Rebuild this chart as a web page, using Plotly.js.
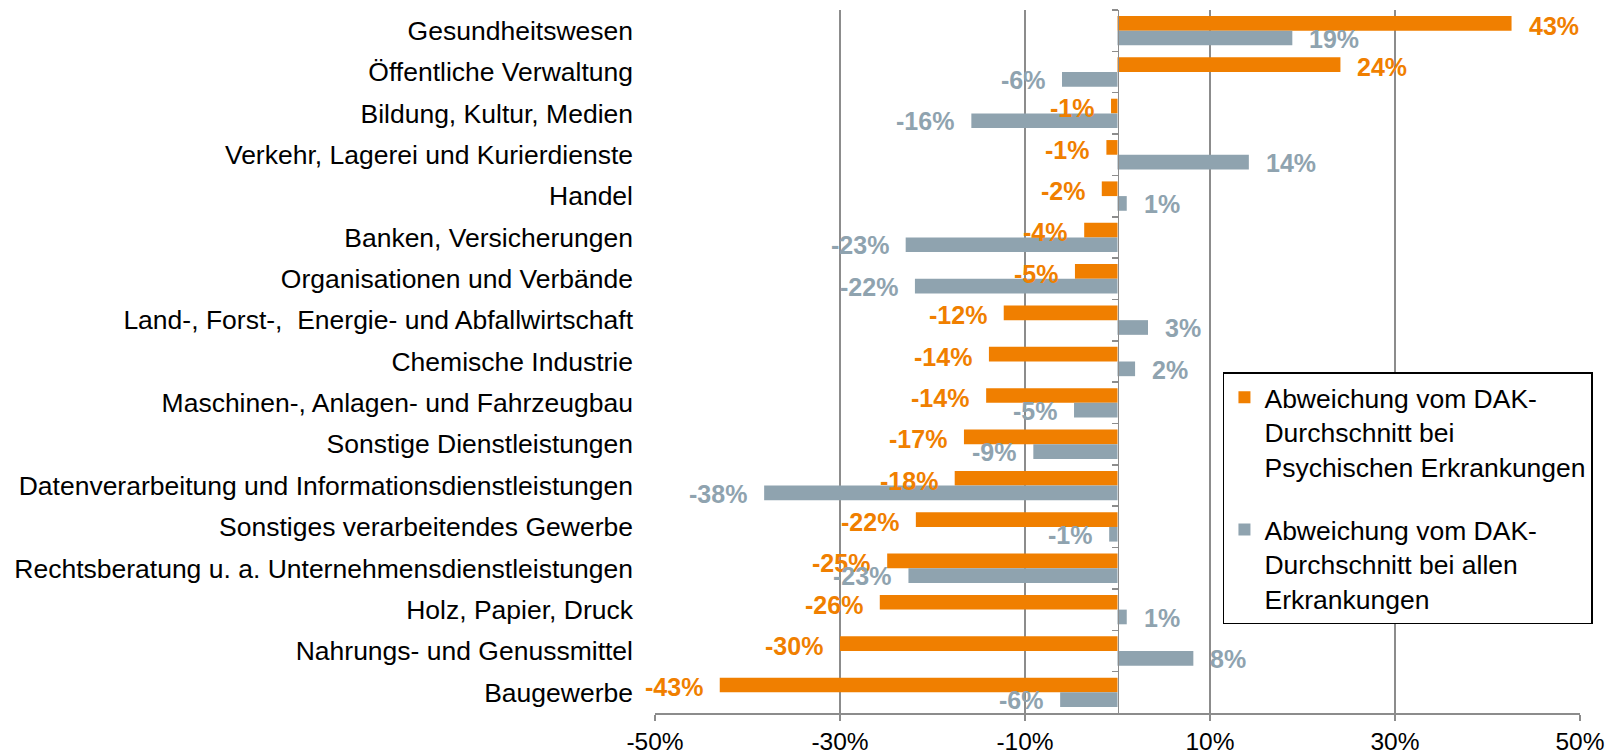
<!DOCTYPE html>
<html>
<head>
<meta charset="utf-8">
<script src="https://cdn.plot.ly/plotly-3.0.1.min.js"></script>
<style>html,body{margin:0;padding:0;background:#fff;}#chart{width:1610px;height:756px;}</style>
</head>
<body>
<div id="chart"></div>
<script>
const categories = [
  "Gesundheitswesen",
  "Öffentliche Verwaltung",
  "Bildung, Kultur, Medien",
  "Verkehr, Lagerei und Kurierdienste",
  "Handel",
  "Banken, Versicherungen",
  "Organisationen und Verbände",
  "Land-, Forst-,  Energie- und Abfallwirtschaft",
  "Chemische Industrie",
  "Maschinen-, Anlagen- und Fahrzeugbau",
  "Sonstige Dienstleistungen",
  "Datenverarbeitung und Informationsdienstleistungen",
  "Sonstiges verarbeitendes Gewerbe",
  "Rechtsberatung u. a. Unternehmensdienstleistungen",
  "Holz, Papier, Druck",
  "Nahrungs- und Genussmittel",
  "Baugewerbe"
];
const psychValues = [42.6, 24.1, -0.7, -1.2, -1.7, -3.6, -4.6, -12.3, -13.9, -14.2, -16.6, -17.6, -21.8, -24.9, -25.7, -30.0, -43.0];
const allValues   = [18.9, -6.0, -15.8, 14.2, 1.0, -22.9, -21.9, 3.3, 1.9, -4.7, -9.1, -38.2, -0.9, -22.6, 1.0, 8.2, -6.2];
const seriesNames = [
  "Abweichung vom DAK-<br>Durchschnitt bei<br>Psychischen Erkrankungen",
  "Abweichung vom DAK-<br>Durchschnitt bei allen<br>Erkrankungen"
];
const tickValues = [-50, -30, -10, 10, 30, 50];
const tickLabels = ["-50%", "-30%", "-10%", "10%", "30%", "50%"];

const ORANGE = "#F07F00";
const GREY = "#8FA3AF";
const AXIS = "#8C8C8C";
const FONT = "Liberation Sans, Arial, sans-serif";

const catRange = [categories.length - 0.5, -0.5];

const traces = [
  {type: "bar", orientation: "h", name: seriesNames[0], x: psychValues, y: categories,
   marker: {color: ORANGE, line: {width: 0}}, legendgroup: "a", hoverinfo: "x+y"},
  {type: "bar", orientation: "h", name: seriesNames[1], x: allValues, y: categories,
   marker: {color: GREY, line: {width: 0}}, legendgroup: "b", hoverinfo: "x+y"},
  {type: "scatter", mode: "markers", x: psychValues, y: categories, yaxis: "y2",
   marker: {opacity: 0}, showlegend: false, hoverinfo: "skip"}
];

const annotations = [];
function addLabels(vals, color, yshift) {
  vals.forEach((v, i) => {
    const r = Math.round(v);
    annotations.push({
      x: v, y: categories[i], xref: "x", yref: "y",
      text: (r === 0 ? "0" : String(r)) + "%",
      showarrow: false,
      xanchor: v >= 0 ? "left" : "right",
      yanchor: "middle",
      xshift: v >= 0 ? 15 : -15,
      yshift: yshift,
      font: {family: FONT, size: 25, color: color, weight: "bold"}
    });
  });
}
addLabels(psychValues, ORANGE, 5);
addLabels(allValues, GREY, -8);

const layout = {
  width: 1610, height: 756,
  margin: {l: 655, r: 30, t: 10, b: 43},
  paper_bgcolor: "#fff", plot_bgcolor: "#fff",
  font: {family: FONT, size: 26, color: "#000"},
  barmode: "group",
  bargap: 0.29,
  bargroupgap: 0,
  showlegend: true,
  legend: {
    x: 0.614, y: 0.485, xanchor: "left", yanchor: "top",
    bordercolor: "#000", borderwidth: 1.5, bgcolor: "#fff",
    font: {family: FONT, size: 26.5, color: "#000"},
    traceorder: "grouped", tracegroupgap: 26, valign: "top"
  },
  xaxis: {
    range: [-50, 50], tickmode: "array", tickvals: tickValues, ticktext: tickLabels,
    showgrid: true, gridcolor: AXIS, gridwidth: 1.5,
    zeroline: false,
    showline: true, linecolor: AXIS, linewidth: 1.5,
    ticks: "outside", ticklen: 6, tickcolor: AXIS, tickwidth: 1.5,
    tickfont: {family: FONT, size: 24.5, color: "#000"},
    fixedrange: true
  },
  yaxis: {
    type: "category", autorange: false, range: catRange,
    showgrid: false, zeroline: false, showline: false, ticks: "",
    ticklabelstandoff: 21,
    tickfont: {family: FONT, size: 26.5, color: "#000"},
    fixedrange: true
  },
  yaxis2: {
    type: "category", autorange: false, range: catRange, overlaying: "y", anchor: "free", position: 0.5,
    side: "left", showgrid: false, zeroline: false,
    showline: true, linecolor: AXIS, linewidth: 1.5,
    ticks: "outside", tickson: "boundaries", ticklen: 6, tickcolor: AXIS, tickwidth: 1.5,
    showticklabels: false, fixedrange: true
  },
  annotations: annotations
};

Plotly.newPlot("chart", traces, layout, {displayModeBar: false, staticPlot: true});
</script>
</body>
</html>
